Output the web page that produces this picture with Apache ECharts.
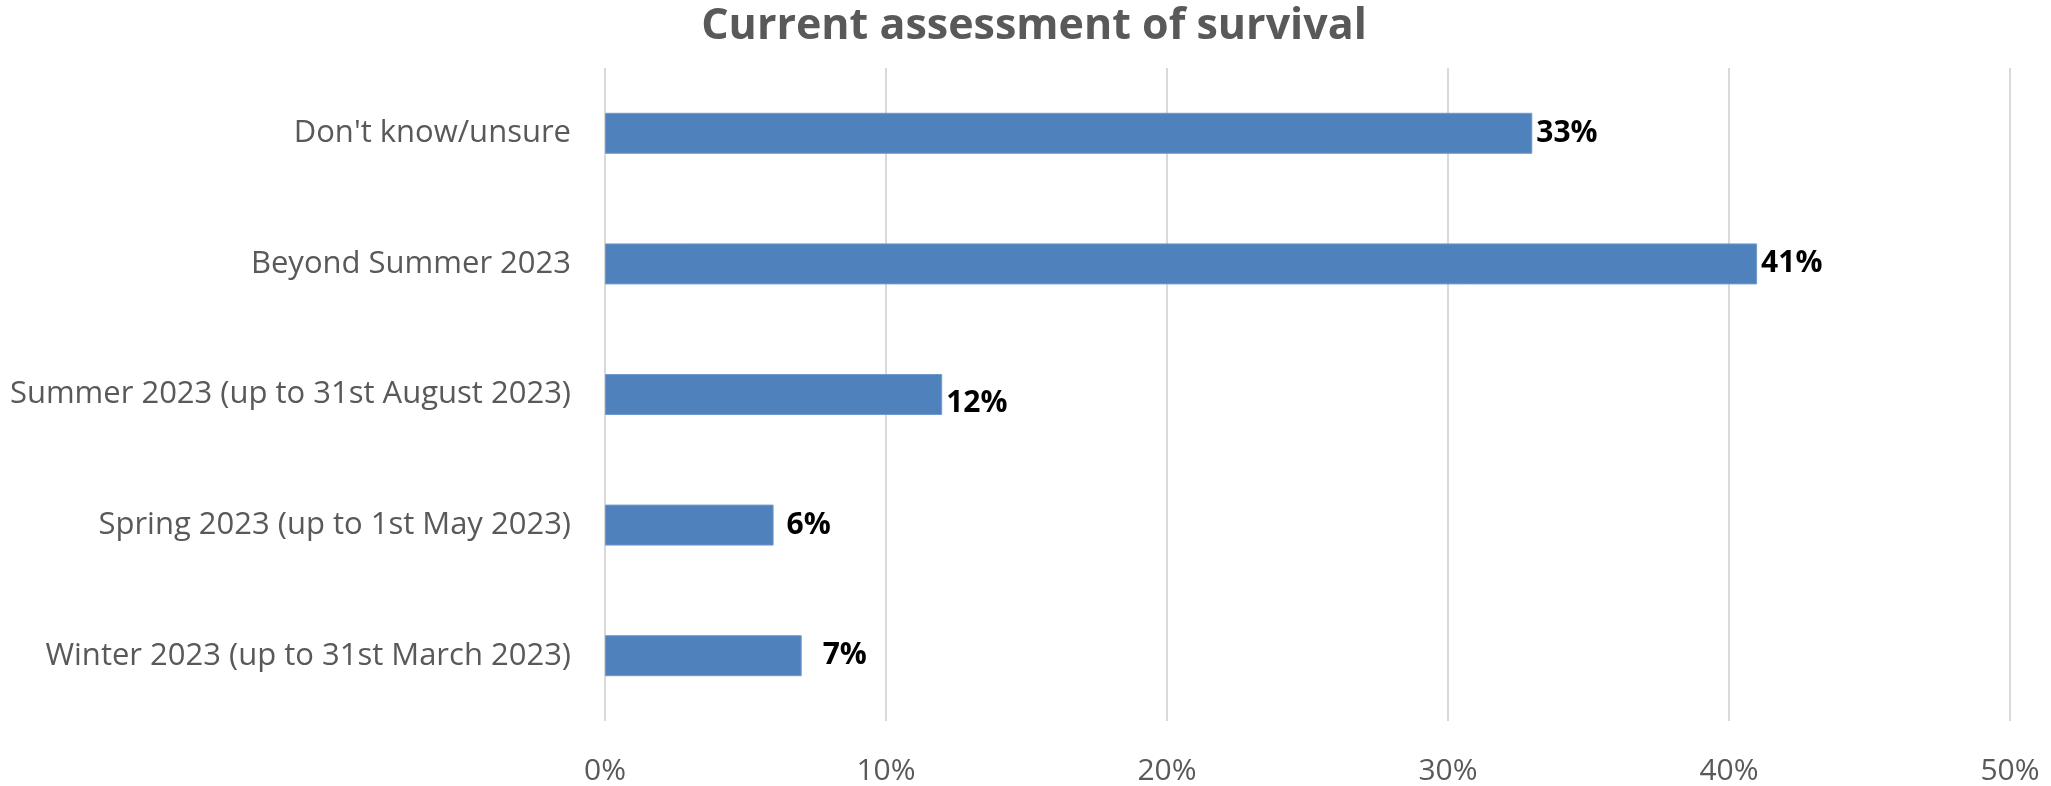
<!DOCTYPE html>
<html>
<head>
<meta charset="utf-8">
<script src="https://cdn.jsdelivr.net/npm/echarts@6/dist/echarts.min.js"></script>
<style>html,body{margin:0;padding:0;background:#fff}#c{width:2051px;height:786px}</style>
</head>
<body>
<div id="c"></div>
<script>
const titleText = 'Current assessment of survival';
const categories = [
  "Don't know/unsure",
  'Beyond Summer 2023',
  'Summer 2023 (up to 31st August 2023)',
  'Spring 2023 (up to 1st May 2023)',
  'Winter 2023 (up to 31st March 2023)'
];
const values = [33, 41, 12, 6, 7];
const axisTicks = [0, 10, 20, 30, 40, 50];

// label nudges (style only), matching the manually placed labels in the original
const labelNudges = [[0, 0], [0, 0], [0, 9], [9, 0], [17, 0]];

const chart = echarts.init(document.getElementById('c'), null, {renderer: 'canvas'});
const FONT = '"Open Sans", sans-serif';
chart.setOption({
  animation: false,
  backgroundColor: '#ffffff',
  title: {
    text: titleText,
    left: 1034,
    textAlign: 'center',
    top: 5,
    padding: 0,
    textStyle: {fontFamily: FONT, fontWeight: 'bold', fontSize: 43, color: '#595959'}
  },
  grid: {left: 605, right: 41, top: 68, bottom: 61, containLabel: false},
  xAxis: {
    type: 'value',
    min: axisTicks[0],
    max: axisTicks[axisTicks.length - 1],
    interval: axisTicks[1] - axisTicks[0],
    axisLine: {show: false},
    axisTick: {show: false},
    splitLine: {show: true, lineStyle: {color: '#D9D9D9', width: 2}},
    axisLabel: {
      formatter: '{value}%',
      margin: 35,
      fontFamily: FONT, fontSize: 30, color: '#595959'
    }
  },
  yAxis: {
    type: 'category',
    inverse: true,
    data: categories,
    axisLine: {show: false},
    axisTick: {show: false},
    splitLine: {show: false},
    axisLabel: {margin: 34, fontFamily: FONT, fontSize: 31, color: '#595959'}
  },
  series: [{
    type: 'bar',
    data: values.map((v, i) => ({value: v, label: {offset: labelNudges[i]}})),
    barWidth: 41,
    itemStyle: {color: '#4F81BD', borderColor: '#6F9AD0', borderWidth: 1},
    label: {
      show: true,
      position: 'right',
      distance: 4,
      formatter: '{c}%',
      fontFamily: FONT, fontWeight: 'bold', fontSize: 30, color: '#000000'
    }
  }]
});
</script>
</body>
</html>
